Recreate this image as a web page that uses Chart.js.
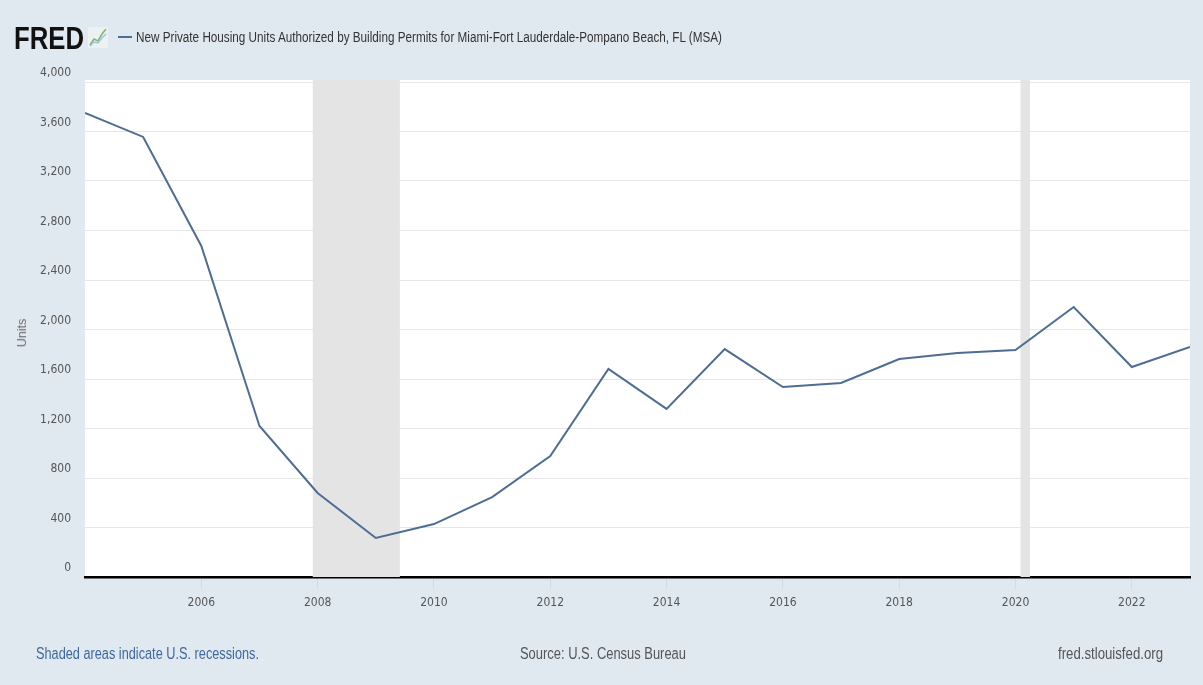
<!DOCTYPE html>
<html>
<head>
<meta charset="utf-8">
<script src="https://cdn.jsdelivr.net/npm/chart.js@4.4.1/dist/chart.umd.min.js"></script>
<style>
  html, body { margin: 0; padding: 0; }
  body { width: 1203px; height: 685px; background: #e1e9f0; position: relative; overflow: hidden;
         font-family: "Liberation Sans", Arial, sans-serif; }
  #wrap { position: absolute; left: 0; top: 0; width: 1203px; height: 685px; }
  .abs { position: absolute; white-space: nowrap; transform-origin: 0 50%; }
  #logo { left: 14px; top: 21px; font-size: 32px; font-weight: bold; color: #111; line-height: 34px; }
  #icon { left: 88px; top: 27px; }
  #legline { left: 118px; top: 36px; width: 14px; height: 2px; background: #4e6d94; }
  #title { left: 136px; top: 28px; font-size: 14px; color: #333; line-height: 18px; }
  #units { left: 22px; top: 333px; font-size: 12.5px; color: #666; transform-origin: 50% 50%;
           transform: translate(-50%, -50%) rotate(-90deg); }
  .foot { top: 644px; font-size: 16px; line-height: 20px; color: #555; }
  #f1 { left: 36px; color: #3e68a0; }
  #f2 { left: 520px; }
  #f3 { left: 1058px; }
</style>
</head>
<body>
<div id="wrap"><canvas id="c" width="1203" height="685"></canvas></div>
<div class="abs" id="logo" data-w="70">FRED</div>
<svg class="abs" id="icon" width="20" height="21" viewBox="0 0 20 21">
  <rect x="0" y="0" width="20" height="21" fill="#edf1ef"/>
  <polyline points="2,18 6,12 10,14 14,7 18,2" fill="none" stroke="#7fb77e" stroke-width="1.6"/>
  <polyline points="2,19 6,15 10,16 14,11 18,7" fill="none" stroke="#9cc6e0" stroke-width="1.4"/>
</svg>
<div class="abs" id="legline"></div>
<div class="abs" id="title" data-w="586">New Private Housing Units Authorized by Building Permits for Miami-Fort Lauderdale-Pompano Beach, FL (MSA)</div>
<div class="abs" id="units">Units</div>
<div class="abs foot" id="f1" data-w="223">Shaded areas indicate U.S. recessions.</div>
<div class="abs foot" id="f2" data-w="166">Source: U.S. Census Bureau</div>
<div class="abs foot" id="f3" data-w="105">fred.stlouisfed.org</div>
<script>
// ---- data ----
const years = [2004, 2005, 2006, 2007, 2008, 2009, 2010, 2011, 2012, 2013,
               2014, 2015, 2016, 2017, 2018, 2019, 2020, 2021, 2022, 2023];
const permits = [3750, 3556, 2675, 1220, 679, 315, 428, 646, 978, 1681,
                 1358, 1842, 1535, 1568, 1762, 1810, 1834, 2182, 1697, 1859];
const xTickValues = [2006, 2008, 2010, 2012, 2014, 2016, 2018, 2020, 2022];
const yTickValues = [0, 400, 800, 1200, 1600, 2000, 2400, 2800, 3200, 3600, 4000];
// recession periods as fractional years: Dec 2007 - Jun 2009, Feb 2020 - Apr 2020
const recessionStarts = [2007.917, 2020.085];
const recessionEnds = [2009.414, 2020.247];

const seriesLabel = 'New Private Housing Units Authorized by Building Permits for Miami-Fort Lauderdale-Pompano Beach, FL (MSA)';
const FONT = '"DejaVu Sans Condensed", "Liberation Sans", sans-serif';

// condense HTML texts horizontally to the reference widths
document.querySelectorAll('[data-w]').forEach(el => {
  const w = el.getBoundingClientRect().width;
  el.style.transform = 'scaleX(' + (parseFloat(el.dataset.w) / w) + ')';
});

const plotBg = {
  id: 'plotBg',
  beforeDraw(chart) {
    const { ctx, chartArea: a } = chart;
    ctx.save();
    ctx.fillStyle = '#ffffff';
    ctx.fillRect(a.left, a.top - 2, a.right - a.left, a.bottom - a.top + 2);
    ctx.restore();
  }
};
const recessions = {
  id: 'recessions',
  beforeDatasetsDraw(chart) {
    const { ctx, chartArea: a, scales: { x } } = chart;
    ctx.save();
    ctx.fillStyle = '#e4e4e4';
    for (let i = 0; i < recessionStarts.length; i++) {
      const x0 = Math.max(a.left, x.getPixelForValue(recessionStarts[i]));
      const x1 = Math.min(a.right, x.getPixelForValue(recessionEnds[i]));
      ctx.fillRect(x0, a.top - 2, x1 - x0, a.bottom - a.top + 2);
    }
    ctx.restore();
  }
};

new Chart(document.getElementById('c'), {
  type: 'line',
  data: {
    datasets: [{
      label: seriesLabel,
      data: years.map((y, i) => ({ x: y, y: permits[i] })),
      borderColor: '#4e6d94',
      borderWidth: 2,
      pointRadius: 0,
      tension: 0,
      fill: false
    }]
  },
  options: {
    responsive: false,
    animation: false,
    layout: { padding: { left: 0, right: 13, top: 82, bottom: 0 } },
    plugins: { legend: { display: false }, tooltip: { enabled: false } },
    scales: {
      x: {
        type: 'linear',
        min: 2004, max: 2023,
        afterBuildTicks(s) { s.ticks = xTickValues.map(v => ({ value: v })); },
        afterFit(s) { s.height = 108; },
        border: { display: true, color: '#000', width: 2.5 },
        grid: { drawOnChartArea: false, drawTicks: true, tickLength: 12, color: '#d3dae2' },
        ticks: { color: '#555', padding: 7, font: { family: FONT, size: 12 },
                 callback: v => String(v), maxRotation: 0 }
      },
      y: {
        min: 0, max: 4000,
        afterBuildTicks(s) { s.ticks = yTickValues.map(v => ({ value: v })); },
        afterFit(s) { s.width = 85; },
        border: { display: false },
        grid: { color: '#e6e6e6', drawTicks: false, lineWidth: 1 },
        ticks: { color: '#555', padding: 14, labelOffset: -9, font: { family: FONT, size: 12 },
                 callback: v => v.toLocaleString('en-US') }
      }
    }
  },
  plugins: [plotBg, recessions]
});
</script>
</body>
</html>
